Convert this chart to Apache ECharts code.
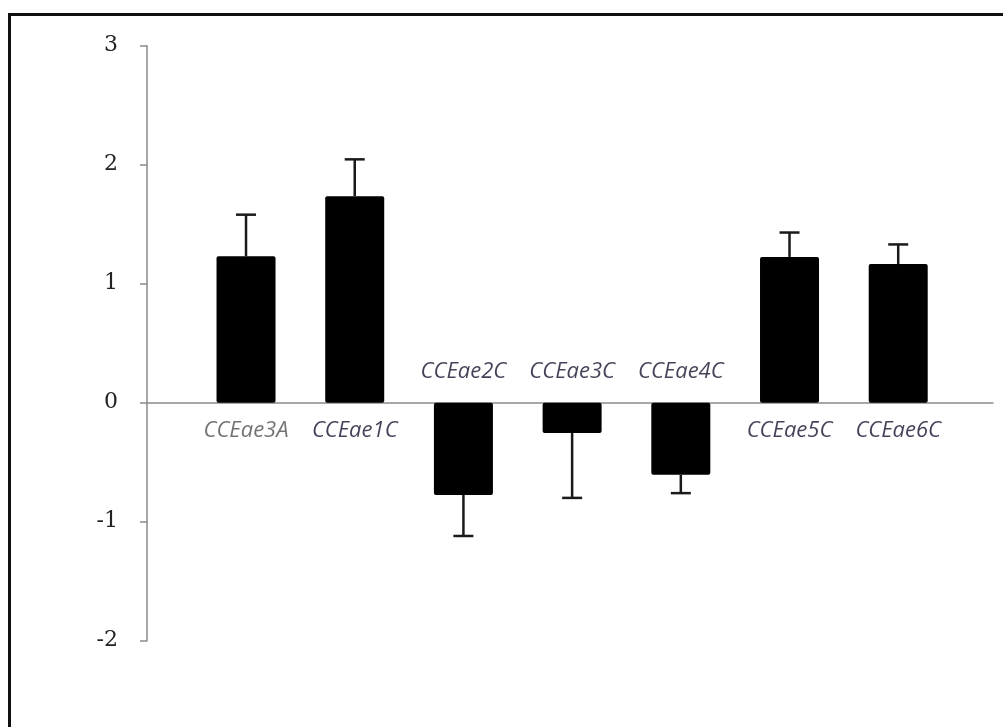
<!DOCTYPE html>
<html>
<head>
<meta charset="utf-8">
<script src="https://cdn.jsdelivr.net/npm/echarts@6/dist/echarts.min.js"></script>
<style>
html,body{margin:0;padding:0;background:#fff;}
#frame{position:absolute;left:8px;top:13px;width:1000px;height:720px;border-left:3px solid #111;border-top:3px solid #111;box-sizing:border-box;}
#chart{position:absolute;left:0;top:0;width:1003px;height:727px;}
</style>
</head>
<body>
<div id="frame"></div>
<div id="chart"></div>
<script>
const categories = ['CCEae3A','CCEae1C','CCEae2C','CCEae3C','CCEae4C','CCEae5C','CCEae6C'];
const means = [1.23, 1.735, -0.775, -0.255, -0.605, 1.225, 1.165];
const errorEnds = [1.58, 2.045, -1.12, -0.80, -0.76, 1.43, 1.33];
const yTicks = [-2, -1, 0, 1, 2, 3];

const chart = echarts.init(document.getElementById('chart'));
const barData = means.map((v, i) => [i, v]);
const errData = means.map((v, i) => [i, v, errorEnds[i]]);
const labelData = categories.map((c, i) => ({
  value: [i, 0],
  name: c,
  label: {
    position: means[i] >= 0 ? 'bottom' : 'top',
    distance: means[i] >= 0 ? 17 : 20,
    color: i === 0 ? '#505050' : '#14142e'
  }
}));

chart.setOption({
  animation: false,
  grid: { left: 147, right: 10, top: 45.7, bottom: 86.3 },
  xAxis: {
    type: 'value', min: -0.911, max: 6.872,
    axisLine: { onZero: true, lineStyle: { color: '#8a8a8a', width: 1.5 } },
    axisTick: { show: false }, axisLabel: { show: false }, splitLine: { show: false }
  },
  yAxis: {
    type: 'value', min: yTicks[0], max: yTicks[yTicks.length - 1], interval: 1,
    axisLine: { show: true, onZero: false, lineStyle: { color: '#8a8a8a', width: 1.5 } },
    axisTick: { show: true, inside: false, length: 7, lineStyle: { color: '#8a8a8a', width: 1.5 } },
    axisLabel: { margin: 29, fontFamily: 'DejaVu Serif', fontSize: 22, color: '#222' },
    splitLine: { show: false }
  },
  series: [
    {
      type: 'bar', data: barData, barWidth: 59,
      itemStyle: { color: '#000', borderRadius: 2 }, z: 2
    },
    {
      type: 'custom', data: errData, z: 3,
      renderItem: function (params, api) {
        const x = api.value(0);
        const p0 = api.coord([x, api.value(1)]);
        const p1 = api.coord([x, api.value(2)]);
        const style = { stroke: '#1a1a1a', lineWidth: 2.5 };
        return {
          type: 'group',
          children: [
            { type: 'line', shape: { x1: p0[0], y1: p0[1], x2: p1[0], y2: p1[1] }, style: style },
            { type: 'line', shape: { x1: p1[0] - 10, y1: p1[1], x2: p1[0] + 10, y2: p1[1] }, style: style }
          ]
        };
      }
    },
    {
      type: 'scatter', data: labelData, symbolSize: 0, z: 4,
      label: {
        show: true, formatter: p => p.name,
        fontFamily: 'Open Sans', fontStyle: 'italic', fontSize: 22
      }
    }
  ]
});
</script>
</body>
</html>
